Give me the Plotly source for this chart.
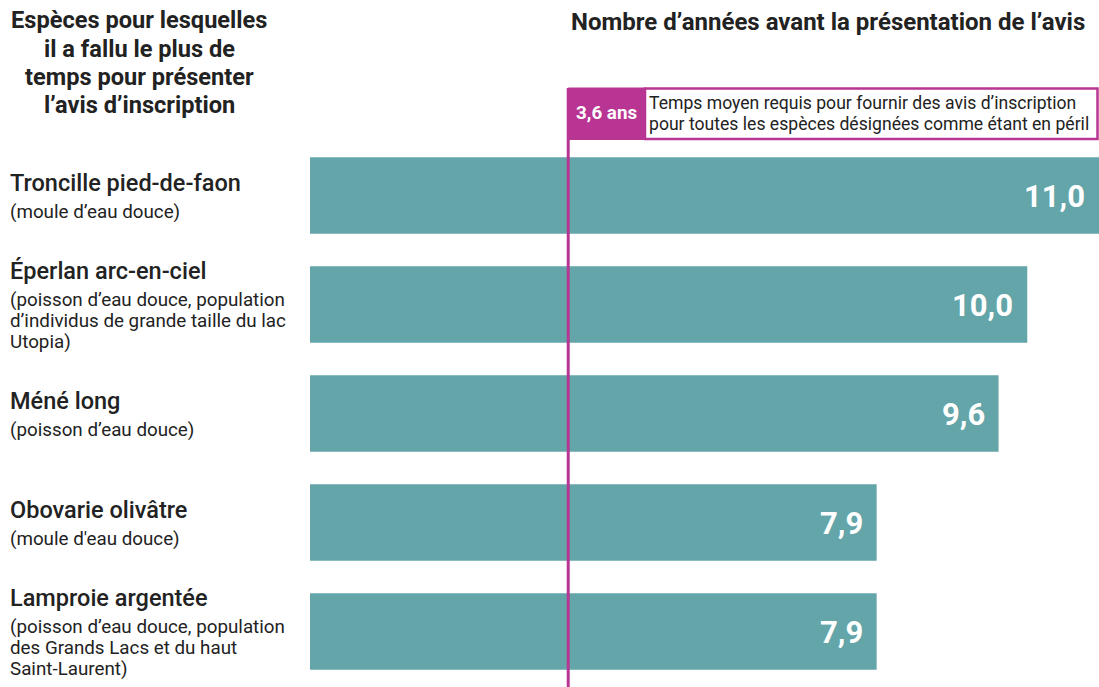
import plotly.graph_objects as go

species = ["Troncille pied-de-faon", "Éperlan arc-en-ciel", "Méné long",
           "Obovarie olivâtre", "Lamproie argentée"]
subtitles = [
    ["(moule d’eau douce)"],
    ["(poisson d’eau douce, population", "d’individus de grande taille du lac", "Utopia)"],
    ["(poisson d’eau douce)"],
    ["(moule d'eau douce)"],
    ["(poisson d’eau douce, population", "des Grands Lacs et du haut", "Saint-Laurent)"],
]
years = [11.0, 10.0, 9.6, 7.9, 7.9]
average = 3.6
left_title = ["Espèces pour lesquelles", "il a fallu le plus de", "temps pour présenter", "l’avis d’inscription"]
right_title = "Nombre d’années avant la présentation de l’avis"
avg_label = "3,6 ans"
avg_text = ["Temps moyen requis pour fournir des avis d’inscription",
            "pour toutes les espèces désignées comme étant en péril"]

W, H = 1099, 687
ML, MR, MT, MB = 310, 0, 141, 1
PW, PH = W - ML - MR, H - MT - MB
XMAX = 11.0

BAR = "#63a5a9"
MAG = "#b93593"
DARK = "#222222"
FONT = "Roboto"


def px_x(px):
    return (px - ML) / PW


def px_y(py):
    return (H - MB - py) / PH


fig = go.Figure()
fig.add_trace(go.Bar(
    x=years, y=species, orientation="h",
    marker=dict(color=BAR, line=dict(width=0)),
    width=0.70, hoverinfo="skip",
))

ann = []
# Value labels
for s, v in zip(species, years):
    ann.append(dict(x=v, y=s, xref="x", yref="y", xanchor="right", yanchor="middle",
                    xshift=-12, yshift=-1, showarrow=False,
                    text=f"<b>{v:.1f}</b>".replace(".", ","),
                    font=dict(family=FONT, size=31, color="white")))

# Species labels
for s, subs in zip(species, subtitles):
    n = len(subs)
    name_off = -13 - 10.5 * (n - 1)   # pixel offset of name centre from bar centre
    ann.append(dict(x=px_x(8), y=s, xref="paper", yref="y", xanchor="left", yanchor="middle",
                    yshift=-name_off, showarrow=False, text=s,
                    font=dict(family=FONT, size=23.5, color=DARK, weight=500)))
    for i, line in enumerate(subs):
        off = name_off + 29 + 21 * i
        ann.append(dict(x=px_x(8), y=s, xref="paper", yref="y", xanchor="left", yanchor="middle",
                        yshift=-off, showarrow=False, text=line,
                        font=dict(family=FONT, size=18.8, color=DARK)))

# Left title
for i, line in enumerate(left_title):
    ann.append(dict(x=px_x(139), y=px_y(20 + 28.5 * i), xref="paper", yref="paper",
                    xanchor="center", yanchor="middle", showarrow=False,
                    text=f"<b>{line}</b>", font=dict(family=FONT, size=23.6, color=DARK)))

# Right title
ann.append(dict(x=px_x(828), y=px_y(22), xref="paper", yref="paper",
                xanchor="center", yanchor="middle", showarrow=False,
                text=f"<b>{right_title}</b>", font=dict(family=FONT, size=24, color=DARK)))

# Average box texts
ann.append(dict(x=px_x(606.5), y=px_y(113), xref="paper", yref="paper",
                xanchor="center", yanchor="middle", showarrow=False,
                text=f"<b>{avg_label}</b>", font=dict(family=FONT, size=18.8, color="white")))
for i, line in enumerate(avg_text):
    ann.append(dict(x=px_x(647), y=px_y(103 + 21 * i), xref="paper", yref="paper",
                    xanchor="left", yanchor="middle", showarrow=False,
                    text=line, font=dict(family=FONT, size=17.6, color=DARK)))

shapes = [
    # white box with magenta border
    dict(type="rect", xref="paper", yref="paper",
         x0=px_x(645), x1=px_x(1097.5), y0=px_y(139), y1=px_y(88.5),
         fillcolor="white", line=dict(color=MAG, width=2.5), layer="above"),
    # magenta label box
    dict(type="rect", xref="x", yref="paper",
         x0=average, x1=average + (645 - 568) / PW * XMAX, y0=px_y(140), y1=px_y(87.5),
         fillcolor=MAG, line=dict(width=0), layer="above"),
    # average line
    dict(type="line", xref="x", yref="paper", x0=average, x1=average,
         y0=px_y(88), y1=px_y(H), line=dict(color=MAG, width=3), layer="above"),
]

fig.update_layout(
    width=W, height=H,
    margin=dict(l=ML, r=MR, t=MT, b=MB, pad=0),
    paper_bgcolor="white", plot_bgcolor="white",
    showlegend=False,
    xaxis=dict(range=[0, XMAX], visible=False, fixedrange=True),
    yaxis=dict(autorange="reversed", visible=False, fixedrange=True,
               categoryorder="array", categoryarray=species),
    annotations=ann, shapes=shapes,
    bargap=0.3,
)

fig.write_html("out.html", config={"displayModeBar": False},
               post_script="document.body.style.margin='0';document.body.style.overflow='hidden';")
